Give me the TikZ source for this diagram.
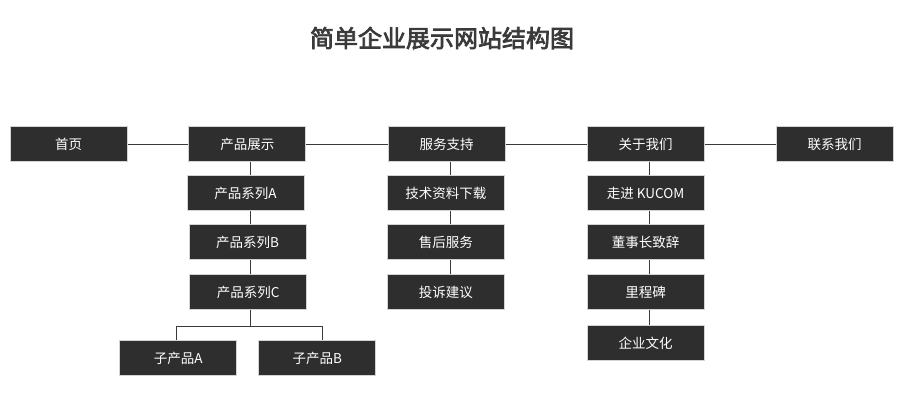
\documentclass[tikz,border=0pt]{standalone}
\usepackage{fontspec}
\newfontfamily\cjk{Noto Sans CJK SC}
\newfontfamily\cjktitle[FakeBold=3]{Noto Sans CJK SC}
\definecolor{boxfill}{HTML}{2E2E2E}
\definecolor{boxedge}{HTML}{D4D4D4}
\definecolor{linec}{HTML}{3A3A3A}
\definecolor{titlec}{HTML}{3A3A3A}
\begin{document}
\begin{tikzpicture}[x=1pt,y=-1pt,
  box/.style={draw=boxedge,line width=1pt,fill=boxfill,text=white,
    minimum width=117pt,minimum height=35pt,inner sep=0pt,
    font=\cjk\fontsize{13.5}{15}\selectfont},
  conn/.style={draw=linec,line width=1pt}]
\useasboundingbox (0,0) rectangle (900,405);
\fill[white] (0,0) rectangle (900,405);
\node[text=titlec,font=\cjktitle\fontsize{24}{28}\selectfont] (title) at (442,38) {简单企业展示网站结构图};
% top row
\node[box] (home) at (68.5,144) {首页};
\node[box] (prod) at (247.3,144) {产品展示};
\node[box] (serv) at (446.5,144) {服务支持};
\node[box] (about) at (645.5,144) {关于我们};
\node[box] (cont) at (834.7,144) {联系我们};
% product column
\node[box] (pa) at (245.5,193.2) {产品系列A};
\node[box] (pb) at (247.5,242.2) {产品系列B};
\node[box] (pc) at (248.3,292.3) {产品系列C};
\node[box] (sa) at (178.3,358.3) {子产品A};
\node[box] (sb) at (317.3,358.3) {子产品B};
% service column
\node[box] (s1) at (445.8,193.3) {技术资料下载};
\node[box] (s2) at (445.8,242.2) {售后服务};
\node[box] (s3) at (445.8,292.2) {投诉建议};
% about column
\node[box] (a1) at (645.5,193.3) {走进 KUCOM};
\node[box] (a2) at (645.5,242.2) {董事长致辞};
\node[box] (a3) at (645.5,292.2) {里程碑};
\node[box] (a4) at (645.5,343.2) {企业文化};
% column lines
\coordinate (c1) at (250.7,0);
\coordinate (c2) at (450.3,0);
\coordinate (c3) at (649.3,0);
\coordinate (j) at (250.7,326.7);
% horizontal connectors
\draw[conn] (home.east) -- (prod.west);
\draw[conn] (prod.east) -- (serv.west);
\draw[conn] (serv.east) -- (about.west);
\draw[conn] (about.east) -- (cont.west);
% vertical connectors
\draw[conn] (prod.south -| c1) -- (pa.north -| c1);
\draw[conn] (pa.south -| c1) -- (pb.north -| c1);
\draw[conn] (pb.south -| c1) -- (pc.north -| c1);
\draw[conn] (pc.south -| c1) -- (j);
\draw[conn] ([xshift=-2.3pt]sa.north) |- (j) -| ([xshift=5pt]sb.north);
\draw[conn] (serv.south -| c2) -- (s1.north -| c2);
\draw[conn] (s1.south -| c2) -- (s2.north -| c2);
\draw[conn] (s2.south -| c2) -- (s3.north -| c2);
\draw[conn] (about.south -| c3) -- (a1.north -| c3);
\draw[conn] (a1.south -| c3) -- (a2.north -| c3);
\draw[conn] (a2.south -| c3) -- (a3.north -| c3);
\draw[conn] (a3.south -| c3) -- (a4.north -| c3);
\end{tikzpicture}
\end{document}
